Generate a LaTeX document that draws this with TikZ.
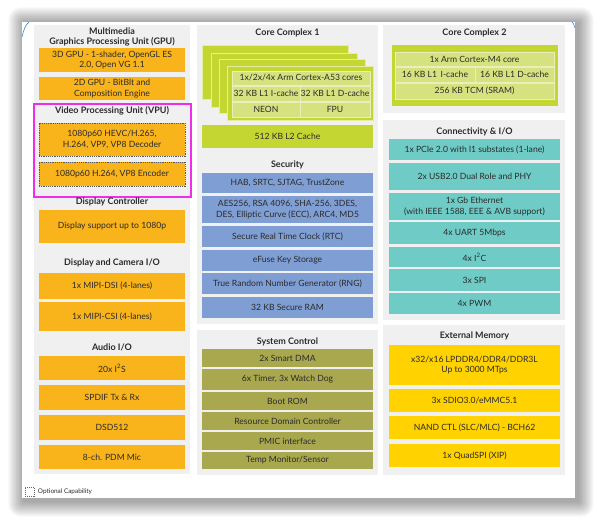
\documentclass[tikz,border=0pt]{standalone}
\usepackage{fontspec}
\setmainfont{Lato}
\usetikzlibrary{positioning}
\definecolor{panelgr}{HTML}{F0F0F0}
\definecolor{nxporange}{HTML}{F9B31B}
\definecolor{nxplime}{HTML}{C4D631}
\definecolor{nxplimelt}{HTML}{D6E27F}
\definecolor{nxpblue}{HTML}{7F9ED4}
\definecolor{nxpolive}{HTML}{A9A84E}
\definecolor{nxpteal}{HTML}{6FCBC6}
\definecolor{nxpyellow}{HTML}{FFD200}
\definecolor{vpumag}{HTML}{EE2EE8}
\definecolor{txt}{HTML}{2B2B2B}
\definecolor{arcblue}{HTML}{4A7FD0}

\begin{document}
\begin{tikzpicture}[x=1pt,y=-1pt,font=\fontsize{8.6}{10.6}\selectfont,text=txt,
  hd/.style={font=\fontsize{9}{10}\selectfont\bfseries,align=center,inner sep=0pt},
  blk/.style={inner sep=0pt,align=center,minimum width=#1},
  orn/.style={blk=146pt,fill=nxporange},
  opt/.style={draw=black!65,dash pattern=on 1.2pt off 1pt,line width=0.6pt},
  sec/.style={blk=171pt,fill=nxpblue},
  sys/.style={blk=171pt,fill=nxpolive},
  con/.style={blk=171pt,fill=nxpteal},
  mem/.style={blk=171pt,fill=nxpyellow},
  card/.style={fill=nxplime,draw=white!55!nxplime,line width=0.6pt},
  cell/.style={blk=#1,fill=nxplimelt,draw=white!45!nxplimelt,line width=0.6pt}]
\def\colA{112}\def\colB{287.5}\def\colC{474.5}
\useasboundingbox (0,0) rectangle (598,521);
\fill[white] (0,0) rectangle (598,521);
\foreach \s in {1,...,12}
  \fill[black,opacity=0.03,rounded corners=\s pt]
    (22-\s*1.3+2,22-\s*1.3+1) rectangle (575+\s*1.3+3,498+\s*1.3+3);
\fill[white] (22,22) rectangle (575,498);
\draw[arcblue,line width=0.6pt] (22,37) .. controls (23.5,30) and (25.5,25) .. (29,22);
\draw[arcblue,line width=0.6pt] (572,22) .. controls (573.5,23.5) .. (575,28);

\fill[panelgr] (34,25) rectangle (190,474);
\fill[panelgr] (197,25) rectangle (378,324);
\fill[panelgr] (197,330) rectangle (378,475);
\fill[panelgr] (383,25) rectangle (565,113);
\fill[panelgr] (383,120) rectangle (565,320);
\fill[panelgr] (383,325) rectangle (565,475);

\node[hd] (mmT) at (\colA,37) {Multimedia\\Graphics Processing Unit (GPU)};
\node[orn,minimum height=24pt] (gpuA) at (\colA,60) {3D GPU - 1-shader, OpenGL ES\\2.0, Open VG 1.1};
\node[orn,minimum height=23pt] (gpuB) at (\colA,88.5) {2D GPU - BitBlt and\\Composition Engine};
\draw[vpumag,line width=1.5pt] (34,104) rectangle (191,197);
\node[hd] (vpuT) at (\colA,111) {Video Processing Unit (VPU)};
\node[orn,opt,minimum height=33pt] (vpuDec) at (\colA,139.5) {1080p60 HEVC/H.265,\\H.264, VP9, VP8 Decoder};
\node[orn,opt,minimum height=24pt] (vpuEnc) at (\colA,174) {1080p60 H.264, VP8 Encoder};
\node[hd] (dcT) at (\colA,202) {Display Controller};
\node[orn,minimum height=33pt] (dcA) at (\colA,226.5) {Display support up to 1080p};
\node[hd] (dioT) at (\colA,263) {Display and Camera I/O};
\node[orn,minimum height=26pt] (dioA) at (\colA,286) {1x MIPI-DSI (4-lanes)};
\node[orn,minimum height=29pt] (dioB) at (\colA,316.5) {1x MIPI-CSI (4-lanes)};
\node[hd] (audT) at (\colA,347) {Audio I/O};
\node[orn,minimum height=24pt] (audA) at (\colA,368) {20x I\textsuperscript{2}S};
\node[orn,minimum height=25pt] (audB) at (\colA,397.5) {SPDIF Tx \& Rx};
\node[orn,minimum height=25pt] (audC) at (\colA,427.5) {DSD512};
\node[orn,minimum height=24pt] (audD) at (\colA,457) {8-ch. PDM Mic};

\node[hd] (cc1T) at (\colB,33) {Core Complex 1};
\foreach \cx/\cy in {202/45,211/53,219/59}
  \draw[card] (\cx,\cy) rectangle ++(146,54);
\draw[card] (227,66) rectangle (373,120);
\node[cell=138pt,minimum height=14pt] (a53) at (301,78) {1x/2x/4x Arm Cortex-A53 cores};
\node[cell=68pt,minimum height=15pt] (a53i) at (266,93.5) {32 KB L1 I-cache};
\node[cell=70pt,minimum height=15pt] (a53d) at (335,93.5) {32 KB L1 D-cache};
\node[cell=68pt,minimum height=15pt] (neon) at (266,109.5) {NEON};
\node[cell=70pt,minimum height=15pt] (fpu) at (335,109.5) {FPU};
\node[blk=171pt,fill=nxplime,minimum height=23pt] (l2) at (\colB,136.5) {512 KB L2 Cache};
\node[hd] (secT) at (\colB,165) {Security};
\node[sec,minimum height=20pt] (secA) at (\colB,183) {HAB, SRTC, SJTAG, TrustZone};
\node[sec,minimum height=27pt] (secB) at (\colB,209.5) {AES256, RSA 4096, SHA-256, 3DES,\\DES, Elliptic Curve (ECC), ARC4, MD5};
\node[sec,minimum height=21pt] (secC) at (\colB,236.5) {Secure Real Time Clock (RTC)};
\node[sec,minimum height=21pt] (secD) at (\colB,260.5) {eFuse Key Storage};
\node[sec,minimum height=21pt] (secE) at (\colB,283.5) {True Random Number Generator (RNG)};
\node[sec,minimum height=21pt] (secF) at (\colB,307.5) {32 KB Secure RAM};
\node[hd] (sysT) at (\colB,342) {System Control};
\node[sys,minimum height=18pt] (sysA) at (\colB,358) {2x Smart DMA};
\node[sys,minimum height=21pt] (sysB) at (\colB,379.5) {6x Timer, 3x Watch Dog};
\node[sys,minimum height=18pt] (sysC) at (\colB,401) {Boot ROM};
\node[sys,minimum height=18pt] (sysD) at (\colB,421) {Resource Domain Controller};
\node[sys,minimum height=18pt] (sysE) at (\colB,441) {PMIC interface};
\node[sys,minimum height=17pt] (sysF) at (\colB,460.5) {Temp Monitor/Sensor};

\node[hd] (cc2T) at (\colC,33) {Core Complex 2};
\fill[nxplime] (392,45) rectangle (558,106);
\node[cell=159pt,minimum height=14pt] (m4) at (474.5,59) {1x Arm Cortex-M4 core};
\node[cell=80pt,minimum height=15pt] (m4i) at (435,74.5) {16 KB L1\, I-cache};
\node[cell=79pt,minimum height=15pt] (m4d) at (514.5,74.5) {16 KB L1 D-cache};
\node[cell=159pt,minimum height=16pt] (tcm) at (474.5,91) {256 KB TCM (SRAM)};
\node[hd] (conT) at (\colC,132) {Connectivity \& I/O};
\node[con,minimum height=21pt] (conA) at (\colC,149.5) {1x PCIe 2.0 with l1 substates (1-lane)};
\node[con,minimum height=27pt] (conB) at (\colC,176.5) {2x USB2.0 Dual Role and PHY};
\node[con,minimum height=27pt] (conC) at (\colC,206.5) {1x Gb Ethernet\\(with IEEE 1588, EEE \& AVB support)};
\node[con,minimum height=22pt] (conD) at (\colC,233) {4x UART 5Mbps};
\node[con,minimum height=20pt] (conE) at (\colC,257) {4x I\textsuperscript{2}C};
\node[con,minimum height=22pt] (conF) at (\colC,280) {3x SPI};
\node[con,minimum height=21pt] (conG) at (\colC,303.5) {4x PWM};
\node[hd] (memT) at (\colC,336) {External Memory};
\node[mem,minimum height=40pt] (memA) at (\colC,365) {x32/x16 LPDDR4/DDR4/DDR3L\\Up to 3000 MTps};
\node[mem,minimum height=23pt] (memB) at (\colC,400.5) {3x SDIO3.0/eMMC5.1};
\node[mem,minimum height=23pt] (memC) at (\colC,427.5) {NAND CTL (SLC/MLC) - BCH62};
\node[mem,minimum height=23pt] (memD) at (\colC,455.5) {1x QuadSPI (XIP)};

\node[draw=black!60,dash pattern=on 1pt off 1pt,line width=0.5pt,minimum size=9pt,inner sep=0pt] (optKey) at (29.5,492) {};
\node[right=3.5pt of optKey,font=\fontsize{6.4}{7}\selectfont,inner sep=0pt] (optTxt) {Optional Capability};
\end{tikzpicture}
\end{document}
